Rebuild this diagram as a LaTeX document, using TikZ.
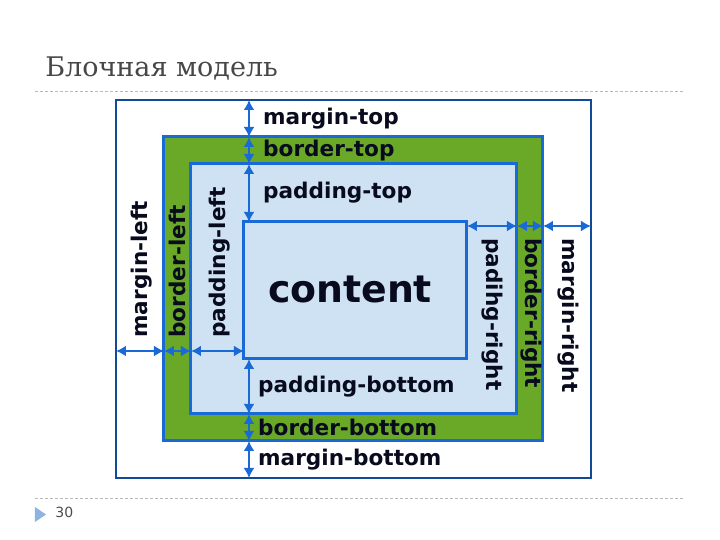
\documentclass[tikz,border=0pt]{standalone}
\usepackage{fontspec}
\usepackage{tikz}
\usetikzlibrary{arrows.meta,positioning}
\newfontfamily\boxfont{DejaVu Sans}
\newfontfamily\titlefont{DejaVu Serif}
\definecolor{lineblue}{HTML}{1969D7}
\definecolor{bordergreen}{HTML}{6AA828}
\definecolor{padfill}{HTML}{CFE2F3}
\definecolor{textnavy}{HTML}{080A1E}
\definecolor{bullet}{HTML}{8DB3E2}
\tikzset{%
	box/.style   = {draw=lineblue, line width=1.5pt, anchor=north west, inner sep=0pt, outer sep=0pt}, % CSS box
	dim/.style   = {lineblue, line width=1.2pt, {Latex[length=5pt,width=5.5pt]}-{Latex[length=5pt,width=5.5pt]}}, % size arrow
	lab/.style   = {font=\boxfont\bfseries\fontsize{10.8}{13}\selectfont, text=textnavy, inner sep=0pt}, % label
	rule/.style  = {draw=gray!55, dash pattern=on 1.5pt off 1pt, line width=0.4pt}, % slide rule
}

\begin{document}
\begin{tikzpicture}[x=0.5pt,y=-0.5pt]
	\useasboundingbox (0,0) rectangle (720,540);
	% slide frame
	\node [anchor=base west,inner sep=0pt,text=black!72,font=\titlefont\fontsize{13.5}{16}\selectfont] (title) at (45,77) {Блочная модель};
	\draw[rule] (35,91) -- (685,91);
	\draw[rule] (35,498) -- (685,498);
	\fill[bullet] (35,507) -- (46,514.5) -- (35,522) -- cycle;
	\node [anchor=base west,inner sep=0pt,text=black!70,font=\boxfont\fontsize{7}{8}\selectfont] (page) at (55,518) {30};
	
	% boxes
	\node [box,draw=lineblue!70!black,line width=0.6pt,fill=white,minimum width=237.5pt,minimum height=189pt] (margin) at (116,100) {};
	\node [box,fill=bordergreen,minimum width=189.5pt,minimum height=152pt] (border) at (164,137) {};
	\node [box,fill=padfill,minimum width=163pt,minimum height=125pt] (padding) at (191,164) {};
	\node [box,fill=padfill,minimum width=111.5pt,minimum height=68.5pt] (content) at (244,222) {};
	\node [lab,font=\boxfont\bfseries\fontsize{18.9}{22}\selectfont] (contentlab) at (350,290) {content};
	
	% guide lines for the arrows
	\coordinate (vx) at (249,0);
	\coordinate (ly) at (0,351);
	\coordinate (ry) at (0,226);
	
	% top and bottom
	\draw[dim] (vx |- margin.north) -- node[lab,right=6.5pt] {margin-top} (vx |- border.north);
	\draw[dim] (vx |- border.north) -- node[lab,right=6.5pt] {border-top} (vx |- padding.north);
	\draw[dim] (vx |- padding.north) -- node[lab,right=6.5pt] {padding-top} (vx |- content.north);
	\draw[dim] (vx |- content.south) -- node[lab,right=4pt] {padding-bottom} (vx |- padding.south);
	\draw[dim] (vx |- padding.south) -- node[lab,right=4pt] {border-bottom} (vx |- border.south);
	\draw[dim] (vx |- border.south) -- node[lab,right=4pt] {margin-bottom} (vx |- margin.south);
	
	% left
	\draw[dim] (margin.west |- ly) -- (border.west |- ly);
	\draw[dim] (border.west |- ly) -- (padding.west |- ly);
	\draw[dim] (padding.west |- ly) -- (content.west |- ly);
	\node [lab,rotate=90,anchor=west] (mleft) at (142,338) {margin-left};
	\node [lab,rotate=90,anchor=west] (bleft) at (177,338) {border-left};
	\node [lab,rotate=90,anchor=west] (pleft) at (220,338) {padding-left};
	
	% right
	\draw[dim] (content.east |- ry) -- (padding.east |- ry);
	\draw[dim] (padding.east |- ry) -- (border.east |- ry);
	\draw[dim] (border.east |- ry) -- (margin.east |- ry);
	\node [lab,rotate=-90,anchor=west] (pright) at (492,238) {padihg-right};
	\node [lab,rotate=-90,anchor=west] (bright) at (531,238) {border-right};
	\node [lab,rotate=-90,anchor=west] (mright) at (568,238) {margin-right};
\end{tikzpicture}
\end{document}
